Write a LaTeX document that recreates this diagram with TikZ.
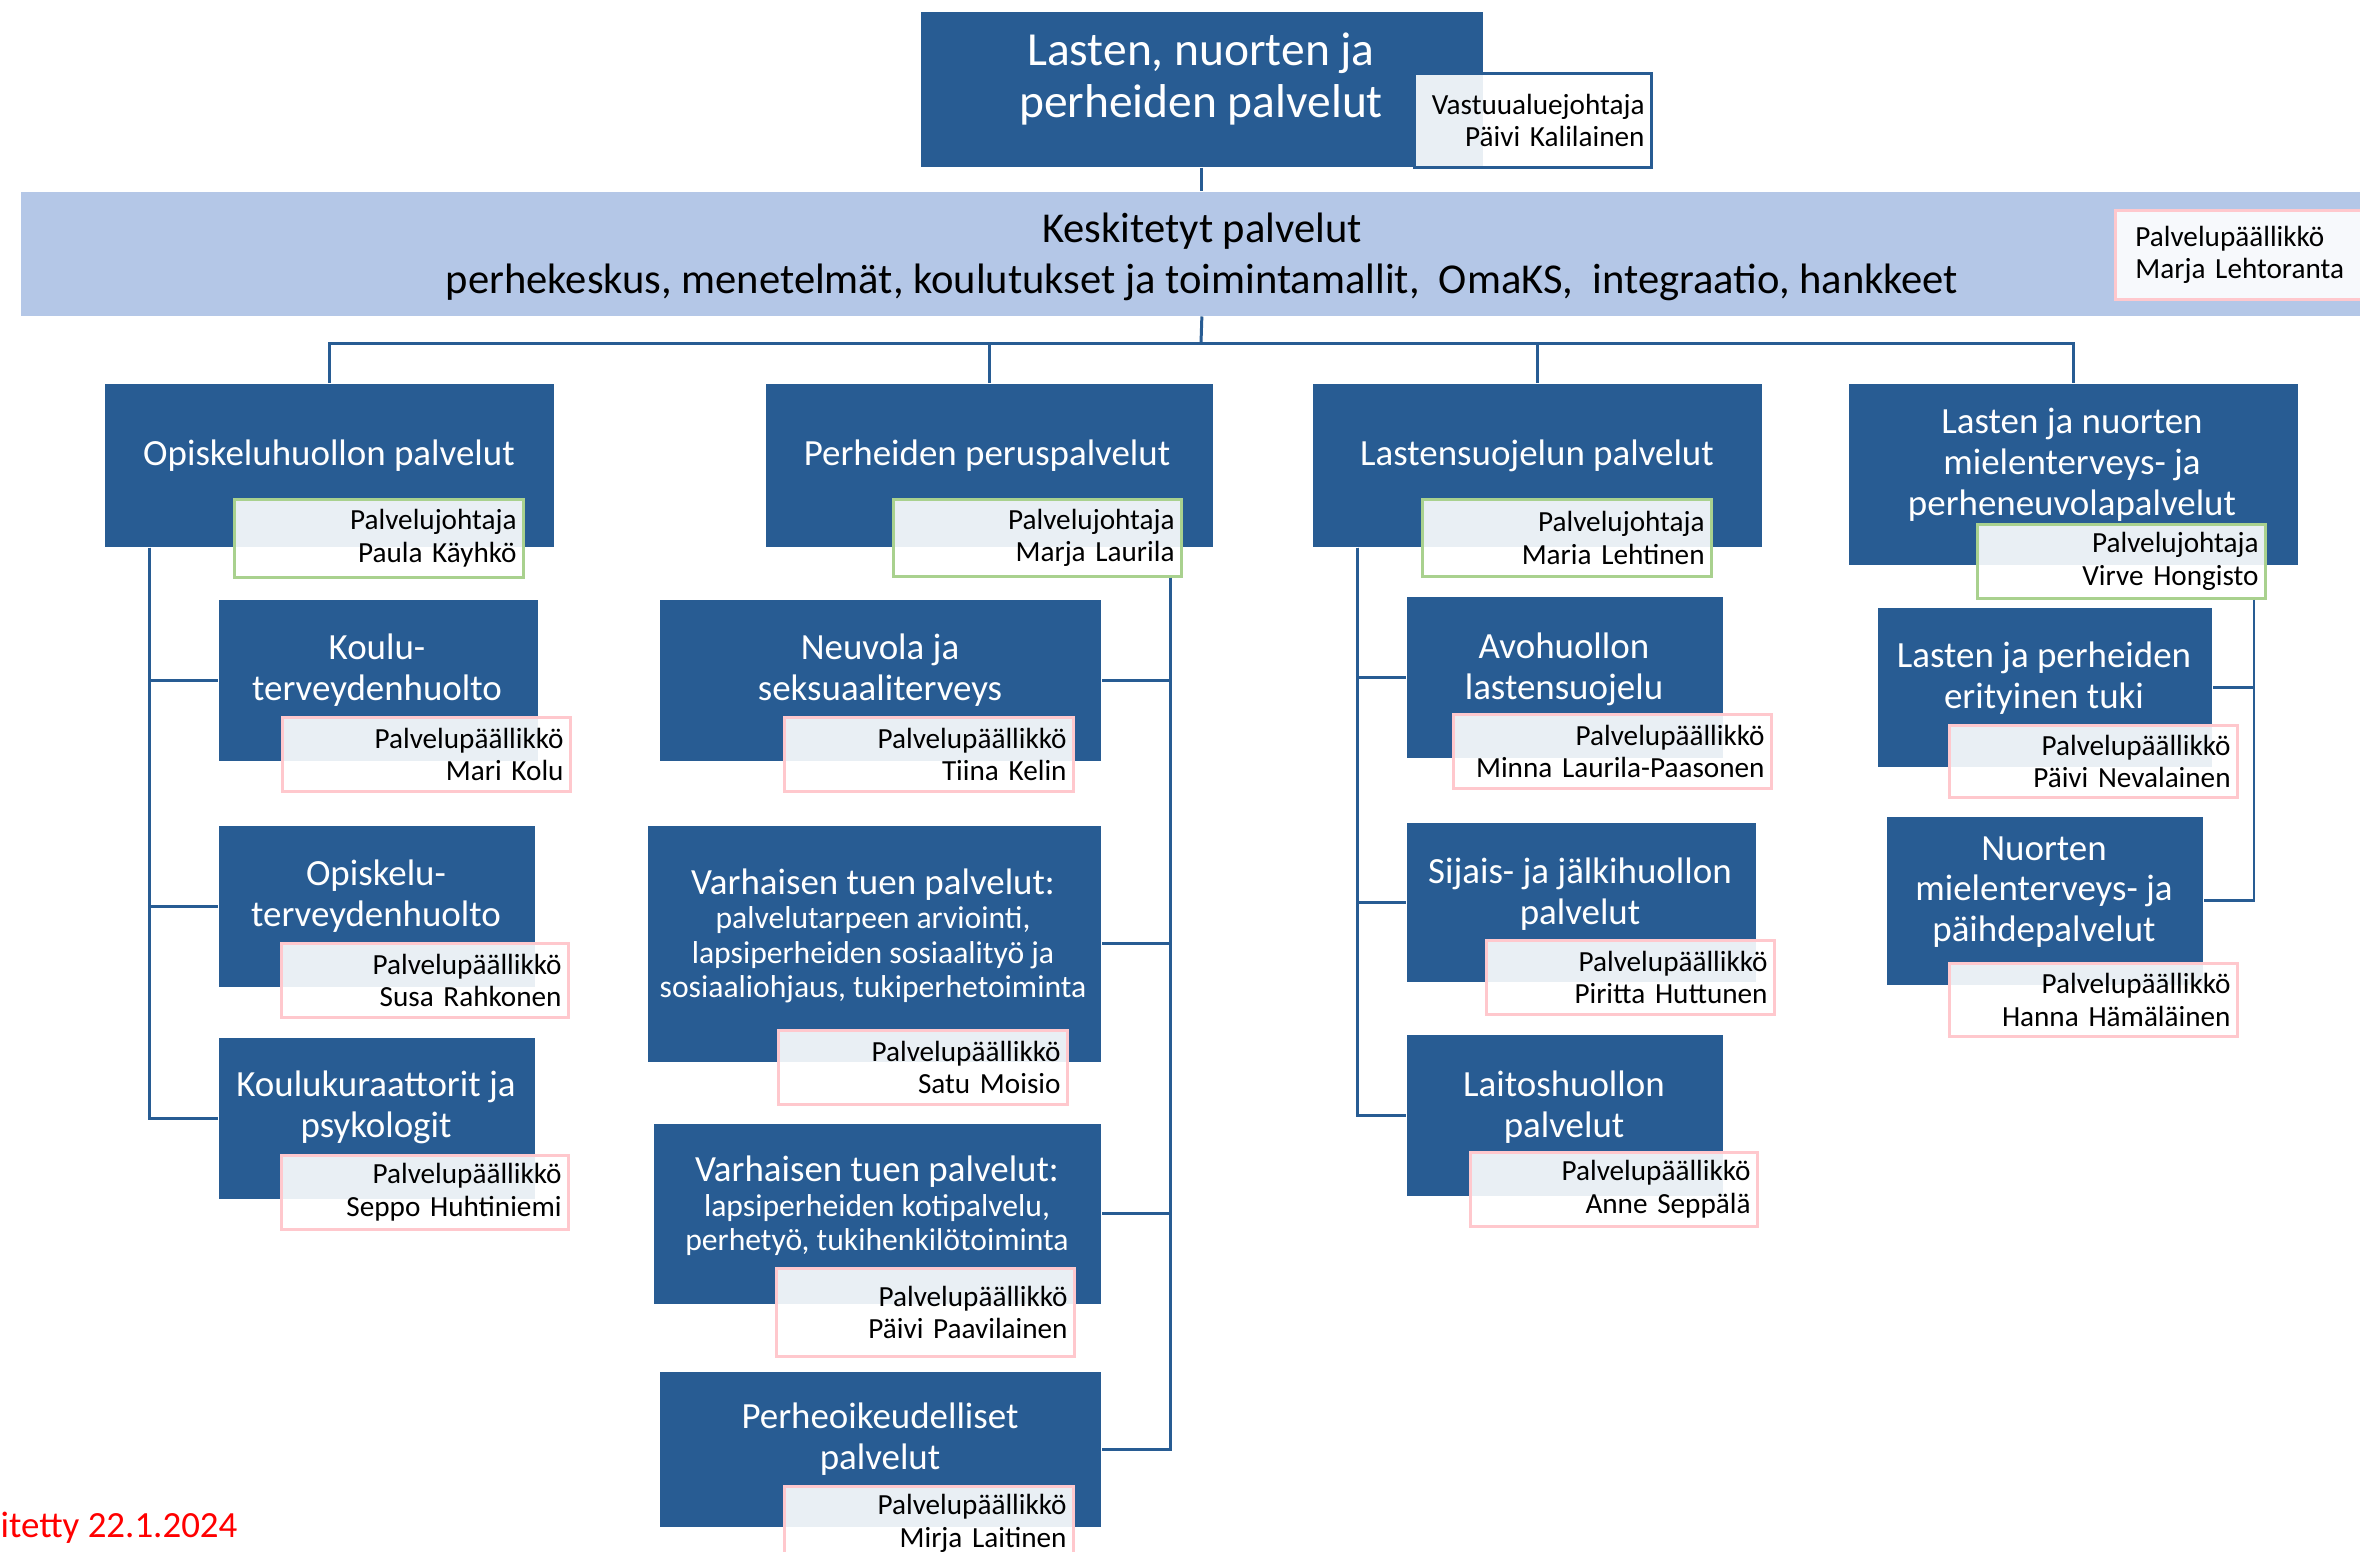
\documentclass[tikz,border=0pt]{standalone}
\usepackage{fontspec}
\setmainfont{Carlito}
\definecolor{boxblue}{RGB}{40,92,147}
\definecolor{bandblue}{RGB}{180,199,231}
\definecolor{greenb}{RGB}{169,209,142}
\definecolor{pinkb}{RGB}{255,200,205}
\newcommand\mainttlfont{\fontsize{13.5}{15}\selectfont}
\newcommand\bandfont{\fontsize{12.1}{14.6}\selectfont}
\newcommand\ttlfont{\fontsize{10.5}{11.6}\selectfont}
\newcommand\descfont{\fontsize{9}{9.8}\selectfont}
\newcommand\lblfont{\fontsize{8.3}{9.3}\selectfont}
\newcommand\datefont{\fontsize{10.5}{12}\selectfont}
\begin{document}
\begin{tikzpicture}[x=0.01cm, y=-0.01cm,
	box/.style={fill=boxblue, anchor=north west, inner sep=0},
	ttl/.style={text=white, align=center, font=\ttlfont, inner sep=0, yshift=-0.03cm},
	lbl/.style={draw=#1, line width=0.8pt, fill=white, fill opacity=0.9, text opacity=1,
		align=right, anchor=north west, font=\lblfont, inner xsep=0.07cm, inner ysep=0},
	conn/.style={draw=boxblue, line width=0.85pt}]
		\useasboundingbox (0,0) rectangle (2360,1551);
		\clip (0,0) rectangle (2360,1551);
		%top
		\node[box, minimum width=5.62cm, minimum height=1.55cm] (top) at (920,11) {};
		\node[lbl=boxblue, minimum height=0.94cm, text width=2.23cm] (ltop) at (1413,72) {Vastuualuejohtaja\\Päivi Kalilainen};
		\node[ttl, font=\mainttlfont] (topt) at (1201,76) {Lasten, nuorten ja\\perheiden palvelut};
		%keskitetyt
		\node[box, fill=bandblue, minimum width=23.6cm, minimum height=1.24cm] (band) at (20,191) {};
		\node[align=center, font=\bandfont, inner sep=0, yshift=-0.03cm] (bandt) at (1202,254) {Keskitetyt palvelut\\perhekeskus, menetelmät, koulutukset ja toimintamallit,~ OmaKS,~ integraatio, hankkeet};
		\node[lbl=pinkb, align=left, minimum height=0.89cm, text width=2.7cm, inner xsep=0.2cm] (lband) at (2114,209) {Palvelupäällikkö\\Marja Lehtoranta};
		%columns
		\node[box, minimum width=4.49cm, minimum height=1.63cm] (c1) at (104,383) {};
		\node[box, minimum width=4.47cm, minimum height=1.63cm] (c2) at (765,383) {};
		\node[box, minimum width=4.49cm, minimum height=1.63cm] (c3) at (1312,383) {};
		\node[box, minimum width=4.49cm, minimum height=1.81cm] (c4) at (1848,383) {};
		\node[lbl=greenb, minimum height=0.78cm, text width=2.75cm] (l1) at (233,498) {Palvelujohtaja\\Paula Käyhkö};
		\node[lbl=greenb, minimum height=0.77cm, text width=2.74cm] (l2) at (892,498) {Palvelujohtaja\\Marja Laurila};
		\node[lbl=greenb, minimum height=0.77cm, text width=2.75cm] (l3) at (1421,498) {Palvelujohtaja\\Maria Lehtinen};
		\node[lbl=greenb, minimum height=0.74cm, text width=2.74cm] (l4) at (1976,523) {Palvelujohtaja\\Virve Hongisto};
		\node[ttl] (c1t) at (329,453) {Opiskeluhuollon palvelut};
		\node[ttl] (c2t) at (987,453) {Perheiden peruspalvelut};
		\node[ttl] (c3t) at (1537,453) {Lastensuojelun palvelut};
		\node[ttl] (c4t) at (2072,462) {Lasten ja nuorten\\mielenterveys- ja\\perheneuvolapalvelut};
		%opiskeluhuolto
		\node[box, minimum width=3.19cm, minimum height=1.61cm] (kt) at (218,599) {};
		\node[box, minimum width=3.16cm, minimum height=1.61cm] (ot) at (218,825) {};
		\node[box, minimum width=3.16cm, minimum height=1.61cm] (kk) at (218,1037) {};
		\node[lbl=pinkb, minimum height=0.74cm, text width=2.74cm] (lkt) at (281,716) {Palvelupäällikkö\\Mari Kolu};
		\node[lbl=pinkb, minimum height=0.74cm, text width=2.73cm] (lot) at (280,942) {Palvelupäällikkö\\Susa Rahkonen};
		\node[lbl=pinkb, minimum height=0.74cm, text width=2.73cm] (lkk) at (280,1154) {Palvelupäällikkö\\Seppo Huhtiniemi};
		\node[ttl] (ktt) at (377,667) {Koulu-\\terveydenhuolto};
		\node[ttl] (ott) at (376,893) {Opiskelu-\\terveydenhuolto};
		\node[ttl] (kkt) at (376,1104) {Koulukuraattorit ja\\psykologit};
		%peruspalvelut
		\node[box, minimum width=4.41cm, minimum height=1.61cm] (nv) at (659,599) {};
		\node[box, minimum width=4.53cm, minimum height=2.36cm] (vt1) at (647,825) {};
		\node[box, minimum width=4.47cm, minimum height=1.80cm] (vt2) at (653,1123) {};
		\node[box, minimum width=4.41cm, minimum height=1.55cm] (po) at (659,1371) {};
		\node[lbl=pinkb, minimum height=0.74cm, text width=2.75cm] (lnv) at (783,716) {Palvelupäällikkö\\Tiina Kelin};
		\node[lbl=pinkb, minimum height=0.74cm, text width=2.75cm] (lvt1) at (777,1029) {Palvelupäällikkö\\Satu Moisio};
		\node[lbl=pinkb, minimum height=0.88cm, text width=2.84cm] (lvt2) at (775,1267) {Palvelupäällikkö\\Päivi Paavilainen};
		\node[lbl=pinkb, minimum height=0.74cm, text width=2.75cm] (lpo) at (783,1485) {Palvelupäällikkö\\Mirja Laitinen};
		\node[ttl] (nvt) at (880,667) {Neuvola ja\\seksuaaliterveys};
		\node[ttl, font=\descfont] (vt1t) at (873,933) {{\ttlfont Varhaisen tuen palvelut:}\\palvelutarpeen arviointi,\\lapsiperheiden sosiaalityö ja\\sosiaaliohjaus, tukiperhetoiminta};
		\node[ttl, font=\descfont] (vt2t) at (877,1203) {{\ttlfont Varhaisen tuen palvelut:}\\lapsiperheiden kotipalvelu,\\perhetyö, tukihenkilötoiminta};
		\node[ttl] (pot) at (880,1436) {Perheoikeudelliset\\palvelut};
		%lastensuojelu
		\node[box, minimum width=3.16cm, minimum height=1.61cm] (ah) at (1406,596) {};
		\node[box, minimum width=3.49cm, minimum height=1.59cm] (sj) at (1406,822) {};
		\node[box, minimum width=3.16cm, minimum height=1.61cm] (lh) at (1406,1034) {};
		\node[lbl=pinkb, minimum height=0.74cm, text width=3.04cm] (lah) at (1452,713) {Palvelupäällikkö\\Minna Laurila-Paasonen};
		\node[lbl=pinkb, minimum height=0.74cm, text width=2.74cm] (lsj) at (1485,939) {Palvelupäällikkö\\Piritta Huttunen};
		\node[lbl=pinkb, minimum height=0.74cm, text width=2.73cm] (llh) at (1469,1151) {Palvelupäällikkö\\Anne Seppälä};
		\node[ttl] (aht) at (1564,666) {Avohuollon\\lastensuojelu};
		\node[ttl] (sjt) at (1580,891) {Sijais- ja jälkihuollon\\palvelut};
		\node[ttl] (lht) at (1564,1104) {Laitoshuollon\\palvelut};
		%mielenterveys
		\node[box, minimum width=3.34cm, minimum height=1.59cm] (et) at (1877,607) {};
		\node[box, minimum width=3.16cm, minimum height=1.68cm] (nm) at (1886,816) {};
		\node[lbl=pinkb, minimum height=0.72cm, text width=2.74cm] (let) at (1948,724) {Palvelupäällikkö\\Päivi Nevalainen};
		\node[lbl=pinkb, minimum height=0.73cm, text width=2.74cm] (lnm) at (1948,962) {Palvelupäällikkö\\Hanna Hämäläinen};
		\node[ttl] (ett) at (2044,675) {Lasten ja perheiden\\erityinen tuki};
		\node[ttl] (nmt) at (2044,889) {Nuorten\\mielenterveys- ja\\päihdepalvelut};
		%connectors
		\coordinate (bus) at (1201,343);
		\draw[conn] (top.south) -- (top.south |- band.north);
		\draw[conn] (top.south |- band.south) -- (bus);
		\draw[conn] (c1.north) |- (bus) -| (c4.north);
		\foreach \c in {c2,c3}
			\draw[conn] (\c.north) -- (\c.north |- bus);
		\foreach \s in {kt,ot,kk}
			\draw[conn] ([xshift=0.45cm]c1.south west) |- (\s.west);
		\foreach \s in {nv,vt1,vt2,po}
			\draw[conn] ([xshift=-0.12cm]l2.south east) |- (\s.east);
		\foreach \s in {ah,sj,lh}
			\draw[conn] ([xshift=0.45cm]c3.south west) |- (\s.west);
		\foreach \s in {et,nm}
			\draw[conn] ([xshift=-0.13cm]l4.south east) |- (\s.east);
		%date
		\node[anchor=west, text=red, font=\datefont, inner sep=0] (date) at (0,1528) {itetty 22.1.2024};
\end{tikzpicture}
\end{document}
